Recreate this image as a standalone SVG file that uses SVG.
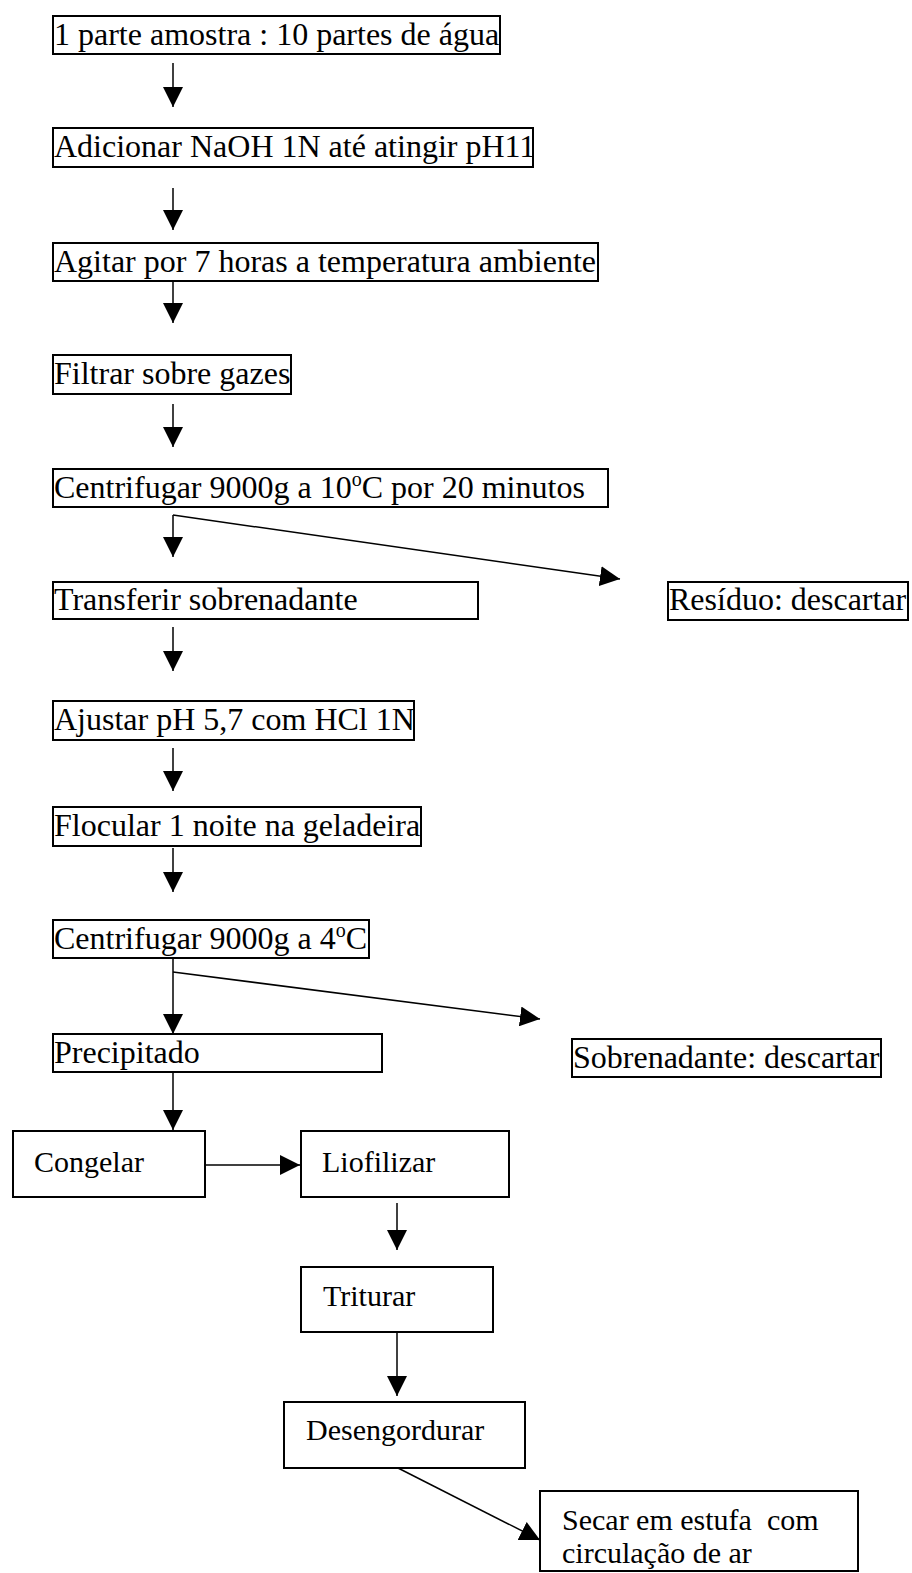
<svg xmlns="http://www.w3.org/2000/svg" width="912" height="1573" viewBox="0 0 912 1573">
  <defs>
    <style>
      .box { fill: #ffffff; stroke: #000000; stroke-width: 2; }
      .lbl { font-family: "Liberation Serif", "Times New Roman", serif; font-size: 32px; fill: #000000; }
      .lbl2 { font-family: "Liberation Serif", "Times New Roman", serif; font-size: 30px; fill: #000000; }
      .sup { font-size: 20px; }
      .link { fill: none; stroke: #000000; stroke-width: 1.5; }
      .arrow { marker-end: url(#head); }
    </style>
    <marker id="head" viewBox="0 0 20 20" markerWidth="20" markerHeight="20" markerUnits="userSpaceOnUse" refX="20" refY="10" orient="auto">
      <path d="M0,0 L20,10 L0,20 Z" fill="#000000"/>
    </marker>
  </defs>

  <rect width="912" height="1573" fill="#ffffff"/>

  <!-- connectors -->
  <g id="connectors">
    <line class="link arrow" x1="173" y1="63" x2="173" y2="107"/>
    <line class="link arrow" x1="173" y1="188" x2="173" y2="230"/>
    <line class="link arrow" x1="173" y1="281" x2="173" y2="323"/>
    <line class="link arrow" x1="173" y1="404" x2="173" y2="447"/>
    <!-- first centrifuge split -->
    <line class="link arrow" x1="173" y1="515" x2="173" y2="557"/>
    <line class="link arrow" x1="173" y1="515" x2="620" y2="579"/>
    <line class="link arrow" x1="173" y1="627" x2="173" y2="671"/>
    <line class="link arrow" x1="173" y1="748" x2="173" y2="791"/>
    <line class="link arrow" x1="173" y1="848" x2="173" y2="892"/>
    <!-- second centrifuge split -->
    <line class="link arrow" x1="173" y1="958" x2="173" y2="1034"/>
    <line class="link arrow" x1="173" y1="972" x2="540" y2="1019"/>
    <line class="link arrow" x1="173" y1="1072" x2="173" y2="1130"/>
    <line class="link arrow" x1="206" y1="1165" x2="300" y2="1165"/>
    <line class="link arrow" x1="397" y1="1203" x2="397" y2="1250"/>
    <line class="link arrow" x1="397" y1="1332" x2="397" y2="1396"/>
    <line class="link arrow" x1="398" y1="1468" x2="540" y2="1540"/>
  </g>

  <g id="n1">
    <rect class="box" x="53" y="16" width="447" height="38"/>
    <text class="lbl" x="54" y="45">1 parte amostra : 10 partes de água</text>
  </g>
  <g id="n2">
    <rect class="box" x="53" y="128" width="480" height="39"/>
    <text class="lbl" x="54" y="157">Adicionar NaOH 1N até atingir pH11</text>
  </g>
  <g id="n3">
    <rect class="box" x="53" y="243" width="545" height="38"/>
    <text class="lbl" x="54" y="272">Agitar por 7 horas a temperatura ambiente</text>
  </g>
  <g id="n4">
    <rect class="box" x="53" y="355" width="238" height="39"/>
    <text class="lbl" x="54" y="384">Filtrar sobre gazes</text>
  </g>
  <g id="n5">
    <rect class="box" x="53" y="469" width="555" height="38"/>
    <text class="lbl" x="54" y="498">Centrifugar 9000g a 10<tspan class="sup" dy="-12">o</tspan><tspan dy="12">C por 20 minutos</tspan></text>
  </g>
  <g id="n6">
    <rect class="box" x="53" y="582" width="425" height="37"/>
    <text class="lbl" x="54" y="610">Transferir sobrenadante</text>
  </g>
  <g id="n7">
    <rect class="box" x="668" y="582" width="240" height="38"/>
    <text class="lbl" x="669" y="610">Resíduo: descartar</text>
  </g>
  <g id="n8">
    <rect class="box" x="53" y="701" width="361" height="39"/>
    <text class="lbl" x="54" y="730">Ajustar pH 5,7 com HCl 1N</text>
  </g>
  <g id="n9">
    <rect class="box" x="53" y="807" width="368" height="39"/>
    <text class="lbl" x="54" y="836">Flocular 1 noite na geladeira</text>
  </g>
  <g id="n10">
    <rect class="box" x="53" y="920" width="316" height="38"/>
    <text class="lbl" x="54" y="949">Centrifugar 9000g a 4<tspan class="sup" dy="-12">o</tspan><tspan dy="12">C</tspan></text>
  </g>
  <g id="n11">
    <rect class="box" x="53" y="1034" width="329" height="38"/>
    <text class="lbl" x="54" y="1063">Precipitado</text>
  </g>
  <g id="n12">
    <rect class="box" x="572" y="1039" width="309" height="38"/>
    <text class="lbl" x="573" y="1068">Sobrenadante: descartar</text>
  </g>
  <g id="n13">
    <rect class="box" x="13" y="1131" width="192" height="66"/>
    <text class="lbl2" x="34" y="1172">Congelar</text>
  </g>
  <g id="n14">
    <rect class="box" x="301" y="1131" width="208" height="66"/>
    <text class="lbl2" x="322" y="1172">Liofilizar</text>
  </g>
  <g id="n15">
    <rect class="box" x="301" y="1267" width="192" height="65"/>
    <text class="lbl2" x="323" y="1306">Triturar</text>
  </g>
  <g id="n16">
    <rect class="box" x="284" y="1402" width="241" height="66"/>
    <text class="lbl2" x="306" y="1440">Desengordurar</text>
  </g>
  <g id="n17">
    <rect class="box" x="540" y="1491" width="318" height="80"/>
    <text class="lbl2" x="562" y="1530" xml:space="preserve">Secar em estufa  com</text>
    <text class="lbl2" x="562" y="1563">circulação de ar</text>
  </g>
</svg>
